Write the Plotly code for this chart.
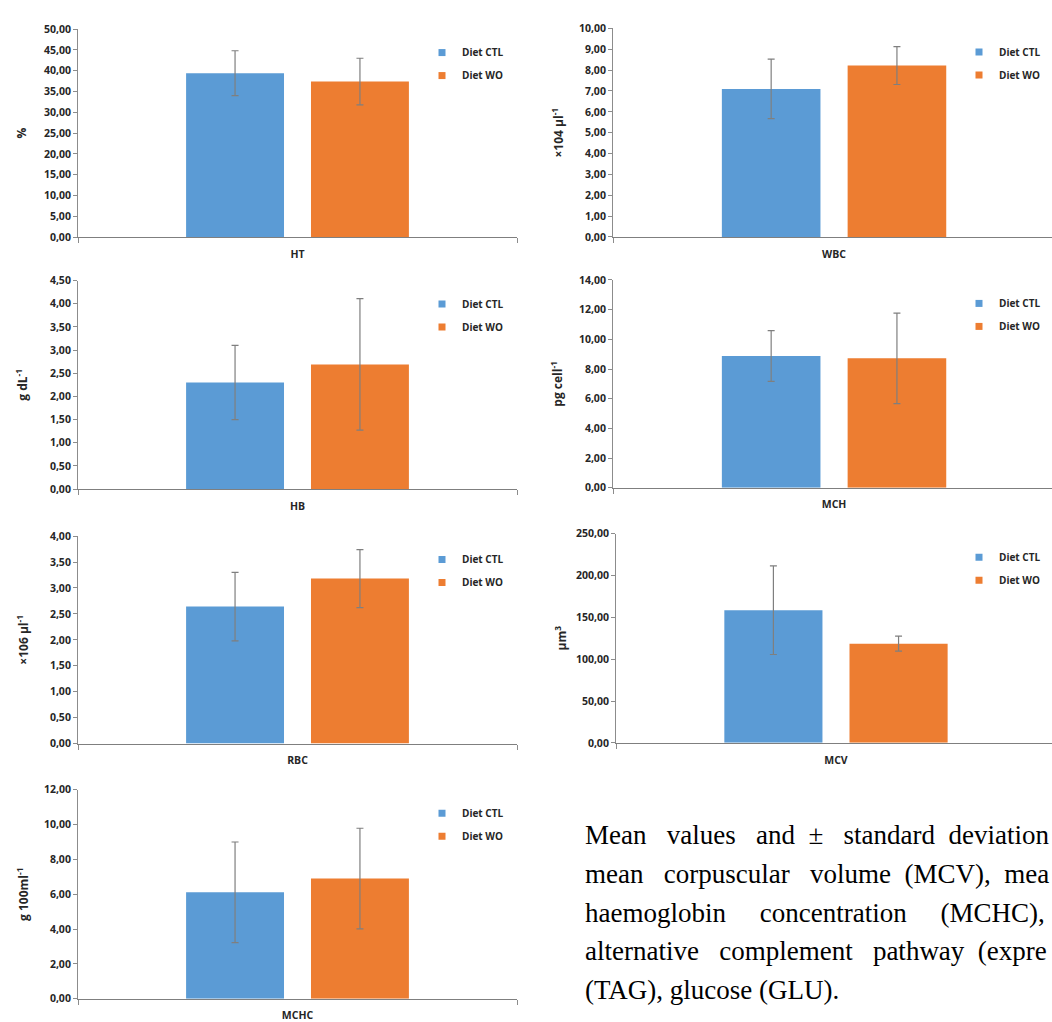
import plotly.graph_objects as go

# ---------------- data ----------------
params = ["HT", "WBC", "HB", "MCH", "RBC", "MCV", "MCHC"]
unit_titles = ["%", "×104 µl<sup>-1</sup>", "g dL<sup>-1</sup>", "pg cell<sup>-1</sup>",
               "×106 µl<sup>-1</sup>", "µm<sup>3</sup>", "g 100ml<sup>-1</sup>"]
ctl_mean = [39.4, 7.10, 2.30, 8.88, 2.64, 158.6, 6.11]
ctl_sd = [5.4, 1.43, 0.80, 1.71, 0.66, 53.0, 2.89]
wo_mean = [37.4, 8.22, 2.69, 8.72, 3.18, 118.6, 6.90]
wo_sd = [5.6, 0.91, 1.42, 3.05, 0.56, 8.9, 2.89]
y_max = [50, 10, 4.5, 14, 4, 250, 12]
y_step = [5, 1, 0.5, 2, 0.5, 50, 2]
series_names = ["Diet CTL", "Diet WO"]

caption_lines = [
    ["Mean", "values", "and", "±", "standard", "deviation"],
    ["mean", "corpuscular", "volume", "(MCV),", "mea"],
    ["haemoglobin", "concentration", "(MCHC),"],
    ["alternative", "complement", "pathway", "(expre"],
    ["(TAG),", "glucose", "(GLU)."],
]

# ---------------- layout / style ----------------
W, H = 1052, 1022
series_colors = ["#5B9BD5", "#ED7D31"]
# panel geometry in pixels: x0, x1, y_top, y_bottom, right end of x range, title standoff
panels = [
    (78, 517, 29.0, 238.5, 0.5, 14),
    (613, 1052, 28.3, 238.3, 0.493, 12),
    (78, 517, 282.3, 492.3, 0.5, 19),
    (613, 1052, 281.7, 491.0, 0.493, 13),
    (78, 517, 539.7, 748.7, 0.5, 18),
    (616, 1052, 537.3, 748.0, 0.491, 6),
    (78, 517, 795.3, 1005.7, 0.5, 12),
]
legend_left = {"left": 422, "right": 959}
caption_gaps = [[2, 2, 1, 2, 1], [2, 2, 1, 1], [4, 4], [2, 2, 1], [0, 0]]
caption_y = [841, 880, 919, 958, 997]


def py(y):
    # pixel row in the photographed page -> pixel row in the figure
    return (y - 6.7) / 0.9867


AX = "#8C8C8C"
TXT = "#262626"
FONT = "Open Sans"

fig = go.Figure()
layout = dict(
    width=W, height=H, margin=dict(l=0, r=0, t=0, b=0),
    paper_bgcolor="white", plot_bgcolor="white",
    barmode="group", bargap=0.431, bargroupgap=0.216,
    separators=",.",
    font=dict(family=FONT, color=TXT),
)

for i, p in enumerate(params):
    k = i + 1
    sfx = "" if k == 1 else str(k)
    xa, ya = "x" + sfx, "y" + sfx
    leg = "legend" + sfx
    x0, x1, yt, yb, xr, so = panels[i]
    means = [ctl_mean[i], wo_mean[i]]
    sds = [ctl_sd[i], wo_sd[i]]
    for j in range(2):
        fig.add_trace(go.Bar(
            x=[p], y=[means[j]], name=series_names[j],
            marker=dict(color=series_colors[j], line=dict(width=0)),
            error_y=dict(type="data", array=[sds[j]], color="#7F7F7F",
                         thickness=1.2, width=3.5),
            xaxis=xa, yaxis=ya, showlegend=False,
        ))
    for j in range(2):
        fig.add_trace(go.Scatter(
            x=[None], y=[None], mode="markers", name=series_names[j],
            marker=dict(symbol="square", size=7, color=series_colors[j]),
            xaxis=xa, yaxis=ya, legend=leg, legendgroup=f"{k}-{j}",
            showlegend=True, hoverinfo="skip",
        ))
    layout["xaxis" + sfx] = dict(
        domain=[x0 / W, x1 / W], anchor=ya, type="category",
        categoryarray=[p], range=[-0.5, xr],
        tickson="boundaries", ticks="outside", ticklen=5, tickcolor=AX,
        ticklabelstandoff=7,
        showline=True, linecolor="#7F7F7F", linewidth=1.2,
        showgrid=False, zeroline=False, fixedrange=True,
        tickfont=dict(family=FONT, size=10.5, color=TXT, weight=700),
    )
    layout["yaxis" + sfx] = dict(
        domain=[1 - py(yb) / H, 1 - py(yt) / H], anchor=xa,
        range=[0, y_max[i]], dtick=y_step[i], tick0=0, tickformat=".2f",
        ticks="outside", ticklen=4, tickcolor=AX,
        showline=True, linecolor=AX, linewidth=1,
        showgrid=False, zeroline=False, fixedrange=True,
        tickfont=dict(family=FONT, size=10.5, color=TXT, weight=700),
        title=dict(text=unit_titles[i], standoff=so,
                   font=dict(family=FONT, size=12, color=TXT, weight=700)),
    )
    side = "left" if x0 < 300 else "right"
    layout[leg] = dict(
        x=legend_left[side] / W, y=1 - py(yt + 9) / H,
        xanchor="left", yanchor="top", bgcolor="rgba(0,0,0,0)",
        borderwidth=0, traceorder="grouped", tracegroupgap=4,
        font=dict(family=FONT, size=10, color=TXT, weight=700),
        itemclick=False, itemdoubleclick=False,
    )

annotations = []
for words, gaps, yc in zip(caption_lines, caption_gaps, caption_y):
    text = words[0]
    for w, g in zip(words[1:], gaps):
        text += " " + "\u00a0" * g + w
    annotations.append(dict(
        text=text, xref="paper", yref="paper",
        x=583 / W, y=1 - py(yc) / H, xanchor="left", yanchor="middle",
        showarrow=False,
        font=dict(family="Liberation Serif", size=27, color="black"),
    ))
layout["annotations"] = annotations

fig.update_layout(**layout)
fig.write_html(
    "out.html",
    config={"displayModeBar": False},
    post_script=(
        "document.body.style.margin='0px';document.body.style.padding='0px';"
        "document.documentElement.style.overflow='hidden';"
        "document.body.style.overflow='hidden';"
    ),
)
